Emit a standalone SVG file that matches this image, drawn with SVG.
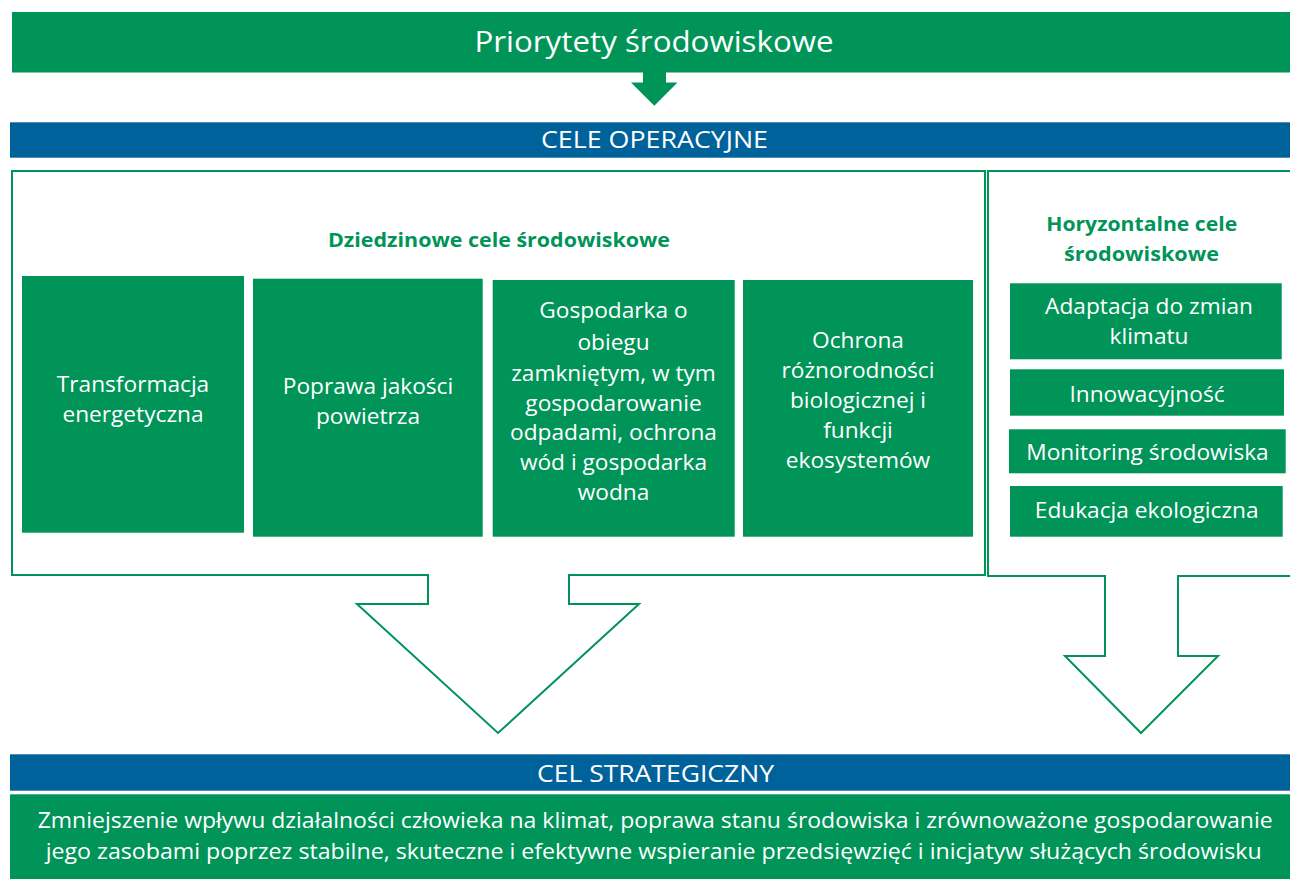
<svg xmlns="http://www.w3.org/2000/svg" width="1290" height="879" viewBox="0 0 1290 879">
<style>
.g{fill:#009459}
.b{fill:#00629a}
.t{font-family:"Open Sans","Liberation Sans",sans-serif;fill:#fff;text-anchor:middle}
.tb{font-size:22.7px}
.h{font-family:"Open Sans","Liberation Sans",sans-serif;fill:#009459;font-weight:bold;text-anchor:middle;font-size:20px}
.o{fill:#fff;stroke:#009459;stroke-width:2}
</style>
<rect width="1290" height="879" fill="#fff"/>
<g id="connectors">
<path class="o" d="M12,171 L985,171 L985,575 L569,575 L569,604 L639,604 L498,733 L357,604 L428,604 L428,575 L12,575 Z"/>
<path class="o" d="M1292,171 L988,171 L988,576 L1105,576 L1105,656 L1065,656 L1141,733 L1218,656 L1178,656 L1178,576 L1292,576"/>
<path class="g" d="M643,72 L666,72 L666,82.5 L677.5,82.5 L654.3,105.7 L631,82.5 L643,82.5 Z"/>
</g>
<g id="priorytety">
<rect class="g" x="12" y="12" width="1278" height="60.5"/>
<text class="t" x="654" y="51.7" font-size="30" textLength="359" lengthAdjust="spacingAndGlyphs">Priorytety środowiskowe</text>
</g>
<g id="cele-operacyjne">
<rect class="b" x="10" y="122.3" width="1280" height="35.4"/>
<text class="t" x="654.5" y="148.3" font-size="24" textLength="227" lengthAdjust="spacingAndGlyphs">CELE OPERACYJNE</text>
</g>
<g id="dziedzinowe">
<text class="h" x="499" y="247.3" textLength="342" lengthAdjust="spacingAndGlyphs">Dziedzinowe cele środowiskowe</text>
</g>
<g id="transformacja">
<rect class="g" x="22" y="276" width="222" height="256.7"/>
<text class="t tb"><tspan x="133" y="392">Transformacja</tspan><tspan x="133" y="422">energetyczna</tspan></text>
</g>
<g id="powietrze">
<rect class="g" x="253" y="278.7" width="229.7" height="258"/>
<text class="t tb"><tspan x="368" y="394">Poprawa jakości</tspan><tspan x="368" y="424">powietrza</tspan></text>
</g>
<g id="gospodarka">
<rect class="g" x="492.7" y="280" width="242" height="256.7"/>
<text class="t tb"><tspan x="613.5" y="318.3">Gospodarka o</tspan><tspan x="613.5" y="350">obiegu</tspan><tspan x="613.5" y="380.7">zamkniętym, w tym</tspan><tspan x="613.5" y="410.7">gospodarowanie</tspan><tspan x="613.5" y="440">odpadami, ochrona</tspan><tspan x="613.5" y="470">wód i gospodarka</tspan><tspan x="613.5" y="500">wodna</tspan></text>
</g>
<g id="ochrona">
<rect class="g" x="743" y="280" width="230" height="256.7"/>
<text class="t tb"><tspan x="858" y="348.3">Ochrona</tspan><tspan x="858" y="378">różnorodności</tspan><tspan x="858" y="408">biologicznej i</tspan><tspan x="858" y="438">funkcji</tspan><tspan x="858" y="468">ekosystemów</tspan></text>
</g>
<g id="horyzontalne">
<text class="h"><tspan x="1141.7" y="231" textLength="191" lengthAdjust="spacingAndGlyphs">Horyzontalne cele</tspan><tspan x="1141.5" y="261" textLength="155" lengthAdjust="spacingAndGlyphs">środowiskowe</tspan></text>
</g>
<g id="adaptacja">
<rect class="g" x="1010" y="283.3" width="271.7" height="76"/>
<text class="t tb"><tspan x="1149" y="314">Adaptacja do zmian</tspan><tspan x="1149" y="344.3">klimatu</tspan></text>
</g>
<g id="innowacyjnosc">
<rect class="g" x="1010" y="369.3" width="274" height="46.4"/>
<text class="t tb" x="1147" y="401.7">Innowacyjność</text>
</g>
<g id="monitoring">
<rect class="g" x="1009" y="429.3" width="276.7" height="44"/>
<text class="t tb" x="1147.5" y="460">Monitoring środowiska</text>
</g>
<g id="edukacja">
<rect class="g" x="1010" y="486" width="272.7" height="50.7"/>
<text class="t tb" x="1146.7" y="517.7">Edukacja ekologiczna</text>
</g>
<g id="cel-strategiczny">
<rect class="b" x="10" y="754.3" width="1280" height="36.4"/>
<text class="t" x="655.5" y="781.5" font-size="24" textLength="237" lengthAdjust="spacingAndGlyphs">CEL STRATEGICZNY</text>
</g>
<g id="cel-opis">
<rect class="g" x="10" y="794.3" width="1280" height="84.7"/>
<text class="t" font-size="22"><tspan x="655.2" y="828.3" textLength="1235" lengthAdjust="spacingAndGlyphs">Zmniejszenie wpływu działalności człowieka na klimat, poprawa stanu środowiska i zrównoważone gospodarowanie</tspan><tspan x="653.7" y="858.5" textLength="1216" lengthAdjust="spacingAndGlyphs">jego zasobami poprzez stabilne, skuteczne i efektywne wspieranie przedsięwzięć i inicjatyw służących środowisku</tspan></text>
</g>
</svg>
